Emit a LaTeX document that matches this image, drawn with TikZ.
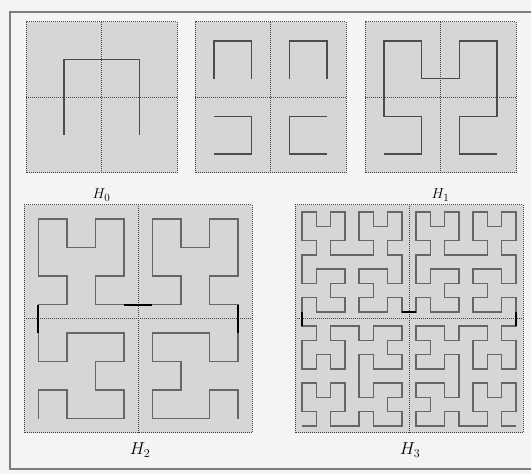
\documentclass[tikz,border=0pt]{standalone}
\usepackage{amsmath}
\usepackage{tikz}
\usetikzlibrary{lindenmayersystems}

\definecolor{pagegray}{RGB}{244,244,244}
\definecolor{boxgray}{RGB}{214,214,214}
\definecolor{framegray}{RGB}{125,125,125}

\pgfdeclarelindenmayersystem{Hilbert}{
  \rule{L -> +RF-LFL-FR+}
  \rule{R -> -LF+RFR+FL-}}

\tikzset{
  hcurve/.style={black!70,line width=1.5pt},
  hjoin/.style={black,line width=2.2pt},
  hgrid/.style={black!75,densely dotted,line width=1pt},
  hlabel/.style={anchor=base,font=\fontsize{15}{18}\selectfont},
  hbiglabel/.style={hlabel,font=\fontsize{17}{20}\selectfont}
}

\begin{document}
\begin{tikzpicture}[x=1pt,y=1pt]
  \useasboundingbox (0,0) rectangle (531,474);
  \fill[pagegray] (0,0) rectangle (531,474);
  \draw[framegray,line width=1.2pt] (531,462) -- (10,462) -- (10,5) -- (531,5);
  % gray squares, dotted frame and axes
  \foreach \px/\py/\ps in {26/301/151,195/301/151,365/301/151,24/41/228,295/41/228}{
    \fill[boxgray] (\px,\py) rectangle ++(\ps,\ps);
    \draw[hgrid] (\px,\py) rectangle ++(\ps,\ps);
    \draw[hgrid] (\px+\ps/2,\py) -- ++(0,\ps);
    \draw[hgrid] (\px,\py+\ps/2) -- ++(\ps,0);
  }
  % H_0
  \draw[hcurve,shift={(63.75,338.75)},
    lindenmayer system={Hilbert, axiom=L, order=1, step=75.5pt, angle=90}]
    lindenmayer system;
  % the four copies
  \begin{scope}[shift={(195,301)},x=151pt,y=151pt]
    \draw[hcurve] (1/8,5/8) -- (1/8,7/8) -- (3/8,7/8) -- (3/8,5/8);
    \draw[hcurve] (5/8,5/8) -- (5/8,7/8) -- (7/8,7/8) -- (7/8,5/8);
    \draw[hcurve] (1/8,3/8) -- (3/8,3/8) -- (3/8,1/8) -- (1/8,1/8);
    \draw[hcurve] (7/8,3/8) -- (5/8,3/8) -- (5/8,1/8) -- (7/8,1/8);
  \end{scope}
  % H_1
  \draw[hcurve,shift={(383.875,319.875)},
    lindenmayer system={Hilbert, axiom=L, order=2, step=37.75pt, angle=90}]
    lindenmayer system;
  % H_2
  \draw[hcurve,black!60,shift={(38.25,55.25)},
    lindenmayer system={Hilbert, axiom=L, order=3, step=28.5pt, angle=90}]
    lindenmayer system;
  \begin{scope}[shift={(24,41)},x=228pt,y=228pt]
    \draw[hjoin] (1/16,7/16) -- (1/16,9/16);
    \draw[hjoin] (7/16,9/16) -- (9/16,9/16);
    \draw[hjoin] (15/16,9/16) -- (15/16,7/16);
  \end{scope}
  % H_3
  \draw[hcurve,black!60,shift={(302.125,48.125)},
    lindenmayer system={Hilbert, axiom=L, order=4, step=14.25pt, angle=90}]
    lindenmayer system;
  \begin{scope}[shift={(295,41)},x=228pt,y=228pt]
    \draw[hjoin] (1/32,15/32) -- (1/32,17/32);
    \draw[hjoin] (15/32,17/32) -- (17/32,17/32);
    \draw[hjoin] (31/32,17/32) -- (31/32,15/32);
  \end{scope}
  % labels
  \node[hlabel] (labH0) at (101.5,275) {$H_0$};
  \node[hlabel] (labH1) at (440.5,275) {$H_1$};
  \node[hbiglabel] (labH2) at (140,19) {$H_2$};
  \node[hbiglabel] (labH3) at (410,19) {$H_3$};
\end{tikzpicture}
\end{document}
